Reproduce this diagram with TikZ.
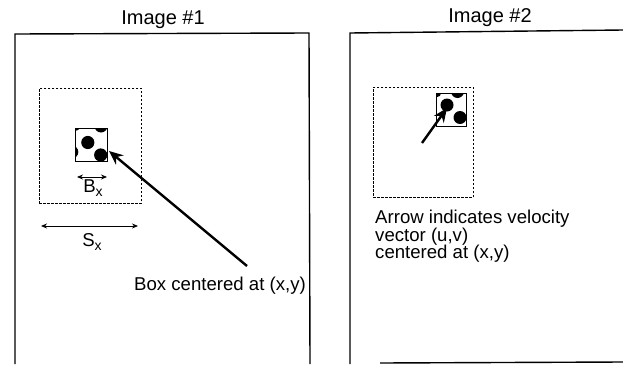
\documentclass[tikz,border=0pt]{standalone}
\usepackage{fontspec}
\setmainfont{Liberation Sans}
\usetikzlibrary{arrows.meta}
\begin{document}
\begin{tikzpicture}[x=1pt,y=-1pt,
  frame/.style={line width=1.4pt},
  window/.style={draw,dash pattern=on 2.5pt off 1.5pt,line width=0.7pt,inner sep=0pt},
  tile/.style={draw,line width=0.9pt,inner sep=0pt},
  lbl/.style={font=\fontsize{18.6}{16}\selectfont,inner sep=0pt},
  ttl/.style={font=\fontsize{20}{20}\selectfont,inner sep=0pt},
  bigarrow/.style={line width=2.4pt,-{Stealth[length=14pt,width=12pt]}},
  dimarrow/.style={line width=0.8pt,{Stealth[length=6pt,width=5pt]}-{Stealth[length=6pt,width=5pt]}},
]
\useasboundingbox (0,0) rectangle (623,364);

% frames of the two images
\draw[frame] (15,364) -- (15,34) -- (309,33) -- (310,364);
\draw[frame] (350,364) -- (350,33) -- (623,30);
\draw[frame] (380,363) -- (623,362);

% titles
\node[ttl] (t1) at (163,20) {Image \#1};
\node[ttl] (t2) at (490,18) {Image \#2};

% search windows
\node[window,minimum width=102pt,minimum height=115pt,anchor=north west] (s1) at (39,88) {};
\node[window,minimum width=100pt,minimum height=110pt,anchor=north west] (s2) at (373,87) {};

% interrogation box in image 1
\begin{scope}
  \clip (75.7,128.7) rectangle (107.3,161.3);
  \fill (87.8,142.5) circle (6.6pt);
  \fill (100.7,155) circle (6.6pt);
  \fill (101,126) circle (6.5pt);
  \fill (75,125) circle (5.8pt);
  \fill (72,152) circle (6.3pt);
\end{scope}
\node[tile,minimum width=31.6pt,minimum height=32.6pt] (b1) at (91.5,145) {};

% interrogation box in image 2
\begin{scope}
  \clip (436.7,93.3) rectangle (466,126.7);
  \fill (447,105) circle (6.5pt);
  \fill (460,117.5) circle (6.5pt);
  \fill (457.5,91.5) circle (6.5pt);
  \fill (436,92) circle (5.5pt);
\end{scope}
\node[tile,minimum width=29.3pt,minimum height=33.4pt] (b2) at (451.35,110) {};

% dimensions
\coordinate (bxl) at (77,177);
\coordinate (bxr) at (107,177);
\draw[dimarrow] (bxl) -- (bxr);
\node[lbl] (bx) at (93,188) {B\raisebox{-0.4ex}{\fontsize{14}{14}\selectfont x}};
\coordinate (sxl) at (41,226);
\coordinate (sxr) at (138,226);
\draw[dimarrow] (sxl) -- (sxr);
\node[lbl] (sx) at (92,242) {S\raisebox{-0.4ex}{\fontsize{14}{14}\selectfont x}};

% labels
\node[lbl,anchor=base west] (lab1) at (134,290) {Box centered at (x,y)};
\node[lbl,anchor=north west,align=left] (lab2) at (375,210)
  {Arrow indicates velocity\\[-1pt]vector (u,v)\\[-1pt]centered at (x,y)};

% pointer to the box and velocity vector
\coordinate (p1) at (247,266);
\coordinate (tip1) at (109,151);
\draw[bigarrow] (p1) -- (tip1);
\coordinate (v0) at (422,143);
\coordinate (v1) at (447,108);
\draw[bigarrow] (v0) -- (v1);
\end{tikzpicture}
\end{document}
